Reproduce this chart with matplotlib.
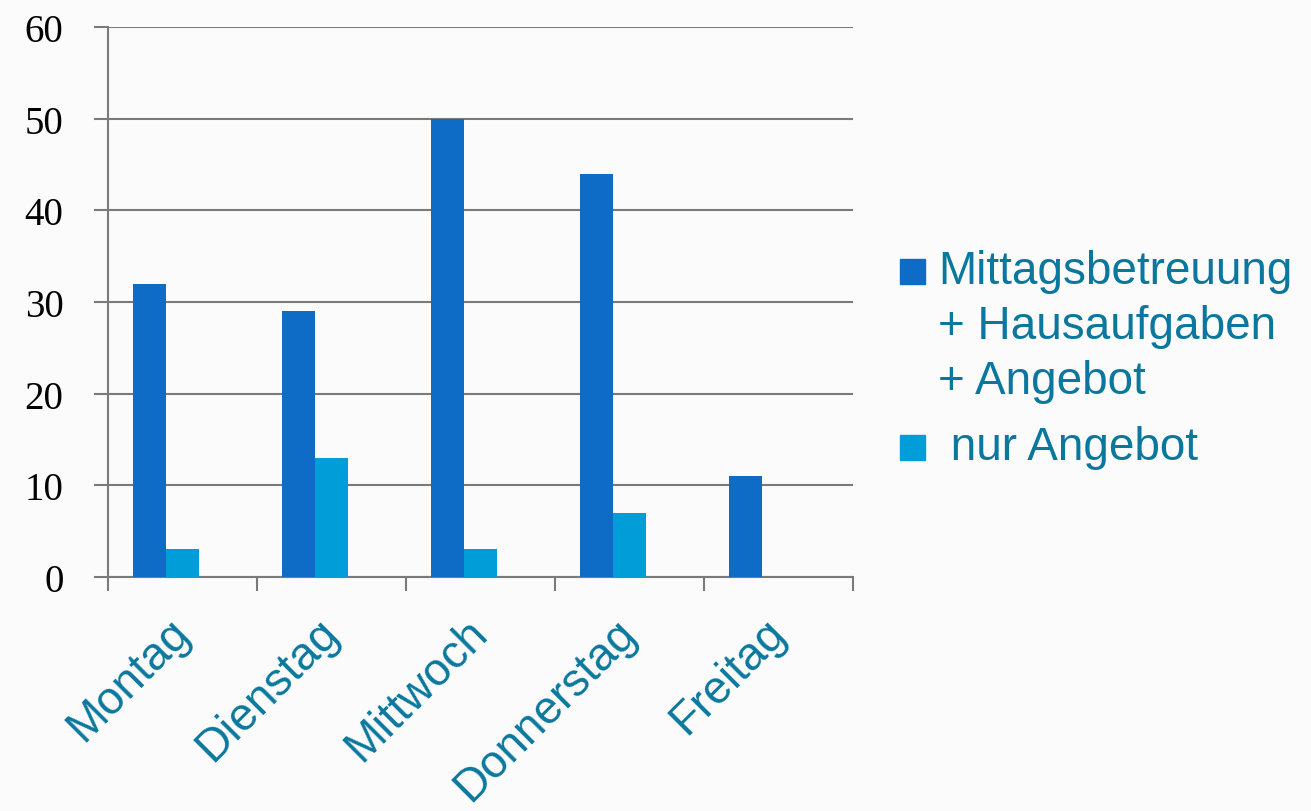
import matplotlib.pyplot as plt
import numpy as np
from matplotlib.patches import Rectangle

days = ["Montag", "Dienstag", "Mittwoch", "Donnerstag", "Freitag"]
mittag = [32, 29, 50, 44, 11]
nur_angebot = [3, 13, 3, 7, 0]
legend_lines = [["Mittagsbetreuung", "+ Hausaufgaben", "+ Angebot"],
                [" nur Angebot"]]

dark = '#0F6CC6'
light = '#009DD9'
teal = '#0A789E'
grey = '#7A7A7A'

fig = plt.figure(figsize=(13.11, 8.12), dpi=100, facecolor='#FBFBFB')
ax = fig.add_axes([0.0824, 0.2882, 0.5683, 0.6773])
ax.set_facecolor('none')

x = np.arange(len(days))
w = 0.2215
ax.bar(x - w, mittag, w, color=dark, zorder=3)
ax.bar(x, nur_angebot, w, color=light, zorder=3)

ax.set_xlim(-0.5, len(days) - 0.5)
ax.set_ylim(0, 60)
ax.set_yticks(range(0, 61, 10))
ax.yaxis.grid(True, color=grey, linewidth=1.5, zorder=0)
ax.set_axisbelow(True)

ax.set_xticks(np.arange(-0.5, len(days), 1.0))
ax.set_xticklabels([])
ax.set_xticks(x, minor=True)
ax.set_xticklabels(days, minor=True, rotation=45, ha='right', va='center',
                   rotation_mode='anchor', fontsize=33, color=teal,
                   fontfamily='Liberation Sans')
ax.tick_params(axis='x', which='minor', length=0, pad=35)
ax.tick_params(axis='x', which='major', length=10, width=1.5, color=grey,
               direction='out')
ax.tick_params(axis='y', length=10, width=1.5, color=grey, direction='out',
               pad=22, labelsize=28)
for t in ax.get_yticklabels():
    t.set_fontfamily('Liberation Serif')

for s in ['top', 'right']:
    ax.spines[s].set_visible(False)
for s in ['left', 'bottom']:
    ax.spines[s].set_color(grey)
    ax.spines[s].set_linewidth(1.5)

# legend drawn by hand so the marker sits beside the first line
W, H = 1311, 812
line_y = [[284, 339, 394], [460]]
for col, lines, ys in zip([dark, light], legend_lines, line_y):
    fig.patches.append(Rectangle((900 / W, 1 - (ys[0] + 1) / H), 25 / W, 25 / H,
                                 transform=fig.transFigure, color=col))
    for txt, y in zip(lines, ys):
        fig.text(938 / W, 1 - y / H, txt, fontsize=33, color=teal,
                 fontfamily='Liberation Sans', va='baseline', ha='left')

fig.savefig('out.png', dpi=100, facecolor=fig.get_facecolor())
